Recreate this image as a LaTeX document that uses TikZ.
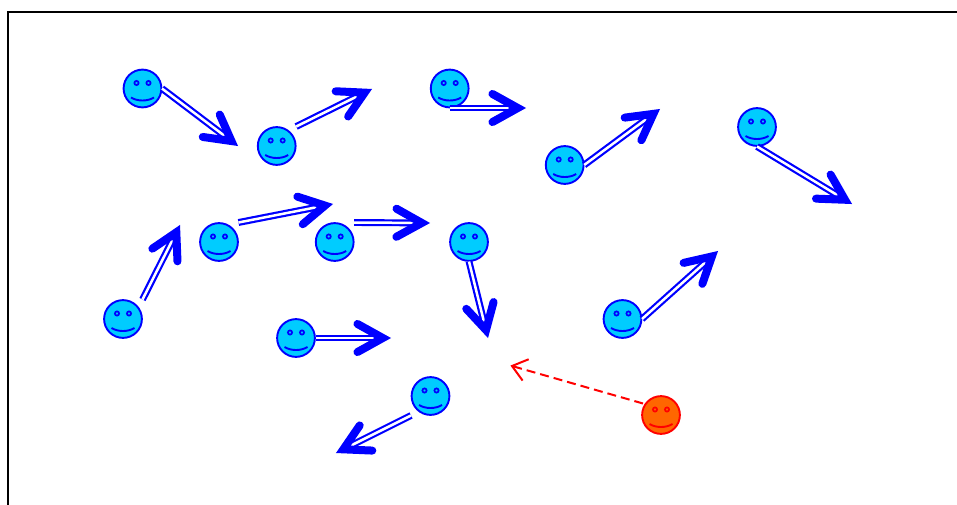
\documentclass[tikz,border=0pt]{standalone}
\usetikzlibrary{calc}
\definecolor{facecyan}{HTML}{00CCFF}
\definecolor{faceorange}{HTML}{FF6600}
\tikzset{
  anchorbox/.style={shape=rectangle,minimum size=39pt,inner sep=0pt,outer sep=0pt},
  faceline/.style={line width=1.9pt},
  shaft/.style={draw=blue,line width=2.2pt,double=white,double distance=2.5pt,line cap=butt},
  barb/.style={draw=blue,line width=8pt,line cap=round,line join=miter,miter limit=10},
  sight/.style={draw=red,line width=2pt,dash pattern=on 9pt off 5pt},
  sighthead/.style={draw=red,line width=2pt,line join=miter},
  framing/.style={draw=black,line width=2.2pt}
}
\newcommand{\smiley}[4]{%
  \node[anchorbox] (#1) at (#2) {};
  \begin{scope}[shift={(#1.center)}]
    \draw[faceline,draw=#4,fill=#3] (0,0) circle (18.9pt);
    \draw[line width=1.7pt,draw=#4] (-6,-5.5) circle (2.1pt);
    \draw[line width=1.7pt,draw=#4] (6,-5.5) circle (2.1pt);
    \draw[line width=1.9pt,draw=#4] (-11.5,9) .. controls (-5,13) and (5,13) .. (11.5,9);
  \end{scope}}
\newcommand{\fleche}[2]{%
  \coordinate (v) at ($(#2)!8.2pt!(#1)$);
  \draw[shaft] (#1) -- (v);
  \draw[barb] ($(v)!29pt!29:(#1)$) -- (v) -- ($(v)!29pt!-29:(#1)$);}
\begin{document}
\begin{tikzpicture}[x=1pt,y=-1pt]
\useasboundingbox (0,0) rectangle (957,505);
\draw[framing] (8,505) -- (8,12) -- (957,12);
\smiley{a}{142.5,88.5}{facecyan}{blue}
\smiley{b}{276.7,146}{facecyan}{blue}
\smiley{c}{449.7,88.5}{facecyan}{blue}
\smiley{d}{564.7,165}{facecyan}{blue}
\smiley{e}{757,127}{facecyan}{blue}
\smiley{f}{123,319}{facecyan}{blue}
\smiley{g}{219,242}{facecyan}{blue}
\smiley{h}{334.7,242}{facecyan}{blue}
\smiley{i}{469,242}{facecyan}{blue}
\smiley{j}{622.5,319}{facecyan}{blue}
\smiley{k}{296,338}{facecyan}{blue}
\smiley{l}{430.5,396}{facecyan}{blue}
\smiley{m}{661,415}{faceorange}{red}
\coordinate (ta) at (238,146);
\coordinate (tb) at (372,89);
\coordinate (tc) at (526,108);
\coordinate (td) at (660,109);
\coordinate (te) at (852,204);
\coordinate (tf) at (180,225);
\coordinate (tg) at (333,204);
\coordinate (th) at (430,223);
\coordinate (ti) at (488,338);
\coordinate (tj) at (718,251);
\coordinate (tk) at (391,338);
\coordinate (tl) at (336,453);
\coordinate (tm) at (512,366);
\coordinate (sm) at (643,403.5);
\fleche{a.east}{ta}
\fleche{b.north east}{tb}
\fleche{c.south}{tc}
\fleche{d.east}{td}
\fleche{e.south}{te}
\fleche{f.north east}{tf}
\fleche{g.north east}{tg}
\fleche{h.north east}{th}
\fleche{i.south}{ti}
\fleche{j.east}{tj}
\fleche{k.east}{tk}
\fleche{l.south west}{tl}
\draw[sight] (sm) -- (tm);
\draw[sighthead] ($(tm)!18pt!38:(sm)$) -- (tm) -- ($(tm)!18pt!-38:(sm)$);
\end{tikzpicture}
\end{document}
